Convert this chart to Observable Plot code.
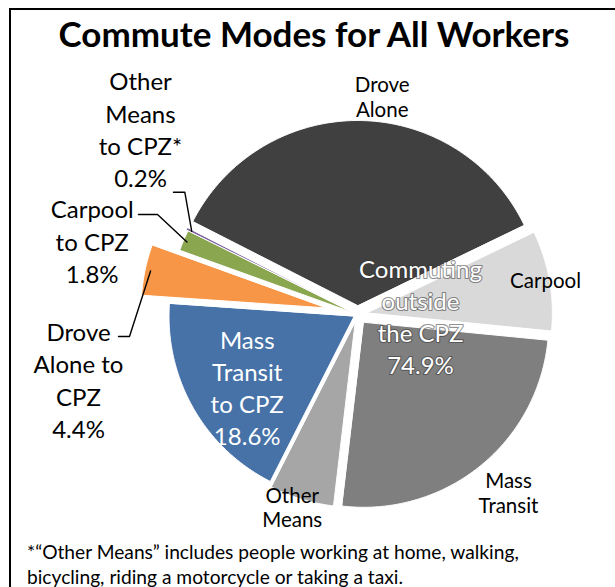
<!DOCTYPE html>
<html>
<head>
<meta charset="utf-8">
<script src="https://cdn.jsdelivr.net/npm/d3@7"></script>
<script src="https://cdn.jsdelivr.net/npm/@observablehq/plot@0.6"></script>
<style>
  body { margin: 0; background: #fff; font-family: Lato, "Open Sans", sans-serif; }
  #wrap { position: relative; width: 615px; height: 587px; overflow: hidden; background: #fff; }
  #frame { position: absolute; left: 9px; top: 8px; width: 700px; height: 700px;
           border-left: 2.5px solid #000; border-top: 2.5px solid #000; z-index: 2; }
  #title { position: absolute; left: 0; width: 628px; top: 16px; text-align: center;
           font-weight: 700; font-size: 35px; line-height: 35px; color: #000; white-space: nowrap; }
  #chart { position: absolute; left: 0; top: 62px; z-index: 1; }
  #note { position: absolute; left: 27px; top: 539px; font-size: 19.2px; line-height: 25px; color: #000; white-space: nowrap; }
</style>
</head>
<body>
<div id="wrap">
  <div id="title">Commute Modes for All Workers</div>
  <div id="chart"></div>
  <div id="note">*“Other Means” includes people working at home, walking,<br>bicycling, riding a motorcycle or taking a taxi.</div>
  <div id="frame"></div>
</div>
<script>
// ---------------- data ----------------
const slices = ["Drove Alone", "Carpool", "Mass Transit", "Other Means",
                "Mass Transit to CPZ", "Drove Alone to CPZ", "Carpool to CPZ", "Other Means to CPZ"];
const shares = [35.3, 8.7, 25.3, 5.6, 18.6, 4.4, 1.8, 0.2];
const outsideLabels = ["Drove\nAlone", "Carpool", "Mass\nTransit", "Other\nMeans"];
const cpzLabels = ["Mass\nTransit\nto CPZ", "Drove\nAlone to\nCPZ", "Carpool\nto CPZ", "Other\nMeans\nto CPZ*"];
const cpzShares = [18.6, 4.4, 1.8, 0.2];
const outsideTitle = "Commuting\noutside\nthe CPZ";
const outsideTotal = 74.9;

// ---------------- styles / layout ----------------
const colors = ["#404040", "#d9d9d9", "#7f7f7f", "#a6a6a6", "#4672a8", "#f79646", "#8aa64f", "#8064a2"];
const explodePx = [9, 10, 10, 8, 4, 32, 4, 6];
const startDeg = 297;
const W = 615, H = 478, top0 = 62;
const CX = 357, CY = 314, R = 185;   // page pixel centre & radius
const toU = (px) => (px - CX) / R;
const toV = (py) => (CY - py) / R;

const rows = slices.map((s, i) => ({slice: s, share: shares[i], explode: explodePx[i] / R}));
const pie = d3.pie().sort(null).value(d => d.share)
  .startAngle(startDeg * Math.PI / 180).endAngle(startDeg * Math.PI / 180 + 2 * Math.PI);
const arcs = pie(rows);

const polyPts = [];
const geom = {};
for (const a of arcs) {
  const mid = (a.startAngle + a.endAngle) / 2;
  const ox = a.data.explode * Math.sin(mid), oy = a.data.explode * Math.cos(mid);
  geom[a.data.slice] = {mid, ox, oy};
  polyPts.push({slice: a.data.slice, u: ox, v: oy});
  const n = Math.max(2, Math.ceil((a.endAngle - a.startAngle) / 0.01));
  for (let k = 0; k <= n; k++) {
    const t = a.startAngle + (a.endAngle - a.startAngle) * k / n;
    polyPts.push({slice: a.data.slice, u: ox + Math.sin(t), v: oy + Math.cos(t)});
  }
}
const slicePoint = (name, r) => {
  const g = geom[name];
  return {u: g.ox + r * Math.sin(g.mid), v: g.oy + r * Math.cos(g.mid)};
};

// label anchors (page pixels)
const outsidePos = [[381.7, 96], [545, 280], [508, 492], [291.7, 506.5]];
const cpzPos = [[246.7, 386], [78, 378.5], [91.7, 240], [140, 128]];
const commutingPos = [420, 315];

const outsideText = outsideLabels.map((t, i) => ({text: t, u: toU(outsidePos[i][0]), v: toV(outsidePos[i][1])}));
const cpzText = cpzLabels.map((t, i) => ({
  text: `${t}\n${cpzShares[i].toFixed(1)}%`, u: toU(cpzPos[i][0]), v: toV(cpzPos[i][1]), inside: i === 0
}));
const commText = [{text: `${outsideTitle}\n${outsideTotal.toFixed(1)}%`, u: toU(commutingPos[0]), v: toV(commutingPos[1])}];

// leader lines: label side, elbow, slice
const leaders = [];
const leaderDefs = [
  ["Other Means to CPZ", [173, 191.7], [184.3, 191.7], 0.97],
  ["Carpool to CPZ", [138, 214], [157, 214], 0.98],
  ["Drove Alone to CPZ", [118, 336], [129, 336], 0.97]
];
for (const [name, p0, p1, r] of leaderDefs) {
  leaders.push({slice: name, u: toU(p0[0]), v: toV(p0[1])});
  leaders.push({slice: name, u: toU(p1[0]), v: toV(p1[1])});
  const e = slicePoint(name, r);
  leaders.push({slice: name, u: e.u, v: e.v});
}

const font = "Lato, 'Open Sans', sans-serif";
const chart = Plot.plot({
  width: W, height: H,
  marginTop: 0, marginRight: 0, marginBottom: 0, marginLeft: 0,
  x: {domain: [toU(0), toU(W)], range: [0, W], axis: null},
  y: {domain: [toV(top0 + H), toV(top0)], range: [H, 0], axis: null},
  color: {domain: slices, range: colors},
  style: {background: "transparent", overflow: "visible"},
  marks: [
    Plot.line(polyPts, {x: "u", y: "v", z: "slice", fill: "slice", stroke: "#ffffff", strokeWidth: 1, curve: "linear-closed"}),
    Plot.line(leaders, {x: "u", y: "v", z: "slice", stroke: "#000", strokeWidth: 1.4, curve: "linear"}),
    Plot.text(outsideText, {x: "u", y: "v", text: "text", fontSize: 20.5, lineHeight: 1.2, fill: "#000", fontFamily: font}),
    Plot.text(cpzText.filter(d => !d.inside), {x: "u", y: "v", text: "text", fontSize: 24, lineHeight: 1.35, fill: "#000", fontFamily: font}),
    Plot.text(cpzText.filter(d => d.inside), {x: "u", y: "v", text: "text", fontSize: 24, lineHeight: 1.33, fill: "#fff", fontFamily: font}),
    // white label with a soft dark halo standing in for Excel's text shadow
    Plot.text(commText, {x: "u", y: "v", text: "text", fontSize: 24, lineHeight: 1.33, fill: "#fff",
      stroke: "#333333", strokeWidth: 2.2, strokeOpacity: 0.55, paintOrder: "stroke", fontFamily: font})
  ]
});
document.getElementById("chart").append(chart);
</script>
</body>
</html>
